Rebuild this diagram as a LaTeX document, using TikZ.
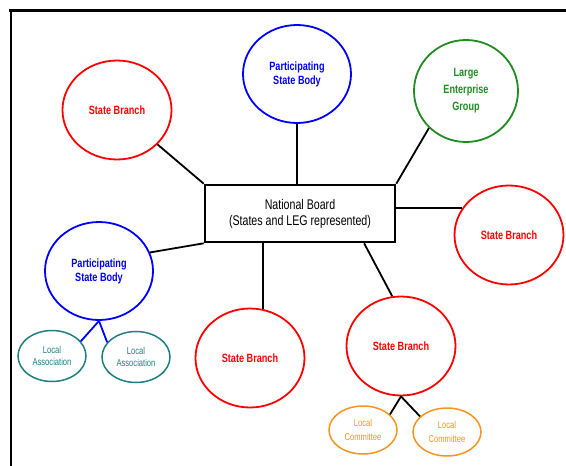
\documentclass[tikz,border=0pt]{standalone}
\usepackage{fontspec}
\setmainfont{Liberation Sans}[FakeStretch=0.76]
\usepackage{tikz}
\usetikzlibrary{shapes.geometric,calc}
\definecolor{sbred}{HTML}{FF0000}
\definecolor{psblue}{HTML}{0000FF}
\definecolor{leggreen}{HTML}{228B22}
\definecolor{lateal}{HTML}{1F7F80}
\definecolor{lcorange}{HTML}{F7941D}

\begin{document}
\begin{tikzpicture}[
   x=1pt,y=-1pt,
   oval/.style  ={ellipse,line width=1.8pt,inner sep=0pt,align=center},
   sb/.style    ={oval,draw=sbred,text=sbred,minimum width=109pt,minimum height=99pt,font=\fontsize{12}{14}\selectfont\bfseries},
   psb/.style   ={oval,draw=psblue,text=psblue,minimum width=108pt,minimum height=98pt,font=\fontsize{12}{14}\selectfont\bfseries},
   leg/.style   ={oval,draw=leggreen,text=leggreen,minimum width=104pt,minimum height=102pt,font=\fontsize{12}{17}\selectfont\bfseries},
   la/.style    ={oval,draw=lateal,text=lateal,minimum width=68pt,minimum height=51pt,line width=1.5pt,font=\fontsize{10}{12}\selectfont},
   lc/.style    ={oval,draw=lcorange,text=lcorange,minimum width=68pt,minimum height=48pt,line width=1.5pt,font=\fontsize{10}{14}\selectfont},
   board/.style ={draw=black,line width=2.6pt,minimum width=190pt,minimum height=57pt,align=center,font=\fontsize{14}{16}\selectfont},
   ln/.style    ={draw=black,line width=1.8pt}
  ]
  \useasboundingbox (0,0) rectangle (566,466);
  % frame
  \draw[line width=3pt] (9,10.5) -- (566,10.5);
  \draw[line width=2pt] (10.5,9) -- (10.5,466);

  % board
  \node[board] (nb) at (300,213.5) {National Board\\(States and LEG represented)};

  % round the board
  \node[sb] (sb1) at (117,110) {State Branch};
  \node[psb] (psb1) at (297,74) {Participating\\State Body};
  \node[leg] (leg) at (466,91) {Large\\Enterprise\\Group};
  \node[sb] (sb2) at (509,235) {State Branch};
  \node[psb] (psb2) at (99,271) {Participating\\State Body};
  \node[sb] (sb3) at (250,358) {State Branch};
  \node[sb] (sb4) at (401,346) {State Branch};

  % locals
  \node[la] (la1) at (52,356) {Local\\Association};
  \node[la] (la2) at (136,357) {Local\\Association};
  \node[lc] (lc1) at (363,430) {Local\\Committee};
  \node[lc] (lc2) at (447,432) {Local\\Committee};

  \draw[ln] (sb1) -- (nb.north west);
  \draw[ln] (psb1.south) -- (psb1.south |- nb.north);
  \draw[ln] (leg.225) -- (nb.north east);
  \draw[ln] (sb2.150 -| nb.east) -- (sb2.150);
  \draw[ln] (psb2.20) -- (nb.south west);
  \draw[ln] (sb3.75 |- nb.south) -- (sb3.75);
  \draw[ln] ($(nb.south west)!0.833!(nb.south east)$) -- (sb4.100);
  \draw[ln,draw=psblue] (psb2.south) -- (la1.27);
  \draw[ln,draw=psblue] (psb2.south) -- (la2.153);
  \draw[ln] (sb4.south) -- (lc1.30);
  \draw[ln] (sb4.south) -- (lc2.150);
\end{tikzpicture}
\end{document}
